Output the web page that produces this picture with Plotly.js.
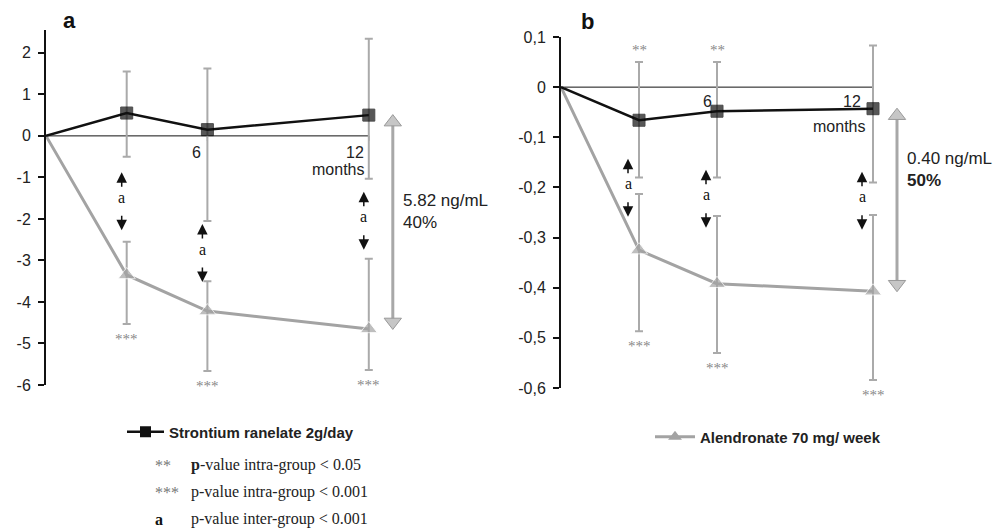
<!DOCTYPE html>
<html>
<head>
<meta charset="utf-8">
<script src="https://cdn.plot.ly/plotly-3.0.1.min.js"></script>
<style>html,body{margin:0;padding:0;background:#fff;}#chart{width:996px;height:532px;}</style>
</head>
<body>
<div id="chart"></div>
<script>
// ---- data ----
const months = [0, 3, 6, 12];

// Panel a (ng/mL)
const srA = [0, 0.55, 0.15, 0.5];
const srAUp = [null, 1.0, 1.47, 1.84];
const srADown = [null, 1.05, 2.2, 1.53];
const alA = [0, -3.35, -4.22, -4.65];
const alAUp = [null, 0.8, 0.72, 1.69];
const alADown = [null, 1.18, 1.44, 0.99];
const starsASr = ['', '', '', ''];
const starsAAl = ['', '***', '***', '***'];
const interA = ['', 'a', 'a', 'a'];
const diffA = ['5.82 ng/mL', '40%'];

// Panel b (ng/mL)
const srB = [0, -0.066, -0.048, -0.043];
const srBUp = [null, 0.116, 0.098, 0.126];
const srBDown = [null, 0.114, 0.132, 0.147];
const alB = [0, -0.325, -0.392, -0.407];
const alBUp = [null, 0.112, 0.135, 0.152];
const alBDown = [null, 0.162, 0.138, 0.177];
const starsBSr = ['', '**', '**', ''];
const starsBAl = ['', '***', '***', '***'];
const interB = ['', 'a', 'a', 'a'];
const diffB = ['0.40 ng/mL', '<b>50%</b>'];

const yTicksA = [2, 1, 0, -1, -2, -3, -4, -5, -6];
const yTickTextA = ['2', '1', '0', '-1', '-2', '-3', '-4', '-5', '-6'];
const yTicksB = [0.1, 0, -0.1, -0.2, -0.3, -0.4, -0.5, -0.6];
const yTickTextB = ['0,1', '0', '-0,1', '-0,2', '-0,3', '-0,4', '-0,5', '-0,6'];

const nameSr = 'Strontium ranelate 2g/day';
const nameAl = 'Alendronate 70 mg/ week';
const notes = [
  ['**', '<b>p</b>-value intra-group &lt; 0.05'],
  ['***', 'p-value intra-group &lt; 0.001'],
  ['<b>a</b>', 'p-value inter-group &lt; 0.001']
];
const monthLabels = ['6', '12', 'months'];

// ---- styles ----
const W = 996, H = 532;
const px = v => v / W;
const py = v => 1 - v / H;
const BLACK = '#111111';
const GRAY = '#a3a3a3';
const ERR = '#aaaaaa';
const SANS = 'Liberation Sans, Arial, Helvetica, sans-serif';
const SERIF = 'Liberation Serif, Times New Roman, serif';

const panels = [
  {xa: 'x', ya: 'y', sr: srA, srU: srAUp, srD: srADown, al: alA, alU: alAUp, alD: alADown,
   sSr: starsASr, sAl: starsAAl, inter: interA, diff: diffA, xd: [46, 470], yd: [385, 30], yr: [-6, 2.55],
   xr: [0, (470 - 46) / 26.9], interShift: -5, diffY: [200, 222], lbl: {six: -11, sixTop: 9, twTop: 9, twR: -3, moTop: 26, moR: -3}},
  {xa: 'x2', ya: 'y2', sr: srB, srU: srBUp, srD: srBDown, al: alB, alU: alBUp, alD: alBDown,
   sSr: starsBSr, sAl: starsBAl, inter: interB, diff: diffB, xd: [561, 980], yd: [388, 37], yr: [-0.6, 0.1],
   xr: [0, (980 - 561) / 26], interShift: -11, diffY: [158, 180], lbl: {six: -10, sixTop: 7, twTop: 7, twR: -10, moTop: 32, moR: -6}}
];

const errTraces = [];
const lineTraces = [];
const annotations = [];
const shapes = [];
const sizes = months.map((m, i) => i === 0 ? 0 : 12);
const triSizes = months.map((m, i) => i === 0 ? 0 : 15);

panels.forEach((p, k) => {
  const pxPerUnit = (p.yd[0] - p.yd[1]) / (p.yr[1] - p.yr[0]);
  const pxPerMonth = (p.xd[1] - p.xd[0]) / (p.xr[1] - p.xr[0]);
  const last = months.length - 1;
  const arrowX = months[last] + 24 / pxPerMonth;
  const toData = pxv => pxv / pxPerUnit;

  // zero line with ticks
  shapes.push({type: 'line', xref: p.xa, yref: p.ya, x0: months[0], x1: months[last], y0: 0, y1: 0,
               line: {color: BLACK, width: 1}, layer: 'below'});
  [months[2], months[3]].forEach(m => {
    shapes.push({type: 'line', xref: p.xa, yref: p.ya, ysizemode: 'pixel', yanchor: 0,
                 x0: m, x1: m, y0: -5, y1: 0, line: {color: BLACK, width: 1}, layer: 'below'});
  });

  // error bars (drawn first, under markers)
  errTraces.push({x: months, y: p.al, xaxis: p.xa, yaxis: p.ya, mode: 'markers', showlegend: false,
    marker: {size: 1, opacity: 0},
    error_y: {type: 'data', symmetric: false, array: p.alU, arrayminus: p.alD, color: ERR, thickness: 2, width: 4},
    cliponaxis: false, hoverinfo: 'skip'});
  errTraces.push({x: months, y: p.sr, xaxis: p.xa, yaxis: p.ya, mode: 'markers', showlegend: false,
    marker: {size: 1, opacity: 0},
    error_y: {type: 'data', symmetric: false, array: p.srU, arrayminus: p.srD, color: ERR, thickness: 2, width: 4},
    cliponaxis: false, hoverinfo: 'skip'});

  // alendronate (gray)
  lineTraces.push({x: months, y: p.al, xaxis: p.xa, yaxis: p.ya, mode: 'lines+markers', showlegend: false,
    line: {color: GRAY, width: 3},
    marker: {symbol: 'triangle-up', size: triSizes, color: GRAY},
    cliponaxis: false, hoverinfo: 'skip'});
  // strontium (black)
  lineTraces.push({x: months, y: p.sr, xaxis: p.xa, yaxis: p.ya, mode: 'lines+markers', showlegend: false,
    line: {color: BLACK, width: 2.5},
    marker: {symbol: 'square', size: sizes, color: BLACK, line: {color: '#000', width: 1}},
    cliponaxis: false, hoverinfo: 'skip'});

  // big difference arrow at 12 months
  const topY = p.sr[last] - toData(7);
  const botY = p.al[last] + toData(7);
  lineTraces.push({x: [arrowX, arrowX], y: [topY, botY], xaxis: p.xa, yaxis: p.ya, mode: 'lines+markers',
    showlegend: false, line: {color: '#a8a8a8', width: 3},
    marker: {symbol: ['triangle-up', 'triangle-down'], size: 15, color: '#c6c6c6', line: {color: '#999999', width: 1}},
    cliponaxis: false, hoverinfo: 'skip'});

  // diff text
  p.diff.forEach((t, j) => {
    annotations.push({xref: p.xa, x: arrowX, xshift: 8, xanchor: 'left', yref: 'paper', y: py(p.diffY[j]),
      yanchor: 'middle', text: t, showarrow: false, font: {family: SANS, size: 17, color: '#222'}});
  });

  // stars & inter-group arrows
  months.forEach((m, i) => {
    if (p.sAl[i]) {
      annotations.push({xref: p.xa, yref: p.ya, x: m, y: p.al[i] - p.alD[i], yanchor: 'top', yshift: -5,
        text: p.sAl[i], showarrow: false, font: {family: SERIF, size: 15, color: '#888'}});
    }
    if (p.sSr[i]) {
      annotations.push({xref: p.xa, yref: p.ya, x: m, y: p.sr[i] + p.srU[i], yanchor: 'bottom', yshift: 2,
        text: p.sSr[i], showarrow: false, font: {family: SERIF, size: 15, color: '#888'}});
    }
    if (p.inter[i]) {
      const yA = ((p.sr[i] - p.srD[i]) + (p.al[i] + p.alU[i])) / 2;
      annotations.push({xref: p.xa, yref: p.ya, x: m, y: yA, xshift: p.interShift, yshift: 2,
        text: p.inter[i], showarrow: false, font: {family: SERIF, size: 16, color: BLACK}});
      annotations.push({xref: p.xa, yref: p.ya, x: m, y: yA, xshift: p.interShift, yshift: 27,
        text: '', showarrow: true, ax: 0, ay: 16, arrowhead: 2, arrowsize: 1.4, arrowwidth: 1.5, arrowcolor: BLACK});
      annotations.push({xref: p.xa, yref: p.ya, x: m, y: yA, xshift: p.interShift, yshift: -31,
        text: '', showarrow: true, ax: 0, ay: -16, arrowhead: 2, arrowsize: 1.4, arrowwidth: 1.5, arrowcolor: BLACK});
    }
  });

  // month labels
  annotations.push({xref: p.xa, yref: p.ya, x: months[2], y: 0, xshift: p.lbl.six, yanchor: 'top', yshift: -p.lbl.sixTop + 3,
    text: monthLabels[0], showarrow: false, font: {family: SANS, size: 16, color: '#222'}});
  annotations.push({xref: p.xa, yref: p.ya, x: months[3], y: 0, xanchor: 'right', xshift: p.lbl.twR, yanchor: 'top', yshift: -p.lbl.twTop + 3,
    text: monthLabels[1], showarrow: false, font: {family: SANS, size: 16, color: '#222'}});
  annotations.push({xref: p.xa, yref: p.ya, x: months[3], y: 0, xanchor: 'right', xshift: p.lbl.moR, yanchor: 'top', yshift: -p.lbl.moTop + 3,
    text: monthLabels[2], showarrow: false, font: {family: SANS, size: 16, color: '#222'}});
});

const traces = errTraces.concat(lineTraces);

// legend dummy traces
traces.push({x: [null], y: [null], xaxis: 'x', yaxis: 'y', mode: 'lines+markers', name: '<b>' + nameSr + '</b>',
  line: {color: BLACK, width: 2.5}, marker: {symbol: 'square', size: 11, color: BLACK}, legend: 'legend'});
traces.push({x: [null], y: [null], xaxis: 'x2', yaxis: 'y2', mode: 'lines+markers', name: '<b>' + nameAl + '</b>',
  line: {color: GRAY, width: 3}, marker: {symbol: 'triangle-up', size: 12, color: GRAY}, legend: 'legend2'});

// panel letters
annotations.push({xref: 'paper', yref: 'paper', x: px(69), y: py(20), xanchor: 'center', yanchor: 'middle',
  text: '<b>a</b>', showarrow: false, font: {family: SANS, size: 22, color: BLACK}});
annotations.push({xref: 'paper', yref: 'paper', x: px(587), y: py(21), xanchor: 'center', yanchor: 'middle',
  text: '<b>b</b>', showarrow: false, font: {family: SANS, size: 22, color: BLACK}});

// notes
const noteY = [465, 492, 519];
notes.forEach((n, i) => {
  annotations.push({xref: 'paper', yref: 'paper', x: px(153), y: py(noteY[i]), xanchor: 'left', yanchor: 'middle',
    text: n[0], showarrow: false, font: {family: SERIF, size: 16, color: i === 2 ? BLACK : '#777'}});
  annotations.push({xref: 'paper', yref: 'paper', x: px(189), y: py(noteY[i]), xanchor: 'left', yanchor: 'middle',
    text: n[1], showarrow: false, font: {family: SERIF, size: 16, color: '#222'}});
});

const yAxisBase = {showline: true, linecolor: BLACK, linewidth: 2, ticks: 'outside', ticklen: 6, tickwidth: 2,
  tickcolor: BLACK, showgrid: false, zeroline: false, ticklabelstandoff: 4,
  tickfont: {family: SANS, size: 16, color: '#222'}, fixedrange: true};
const xAxisBase = {visible: false, showgrid: false, zeroline: false, fixedrange: true};

const p0 = panels[0], p1 = panels[1];
const layout = {
  width: W, height: H,
  margin: {l: 0, r: 0, t: 0, b: 0},
  paper_bgcolor: '#fff', plot_bgcolor: 'rgba(0,0,0,0)',
  xaxis: Object.assign({}, xAxisBase, {domain: [px(p0.xd[0]), px(p0.xd[1])], range: p0.xr}),
  yaxis: Object.assign({}, yAxisBase, {domain: [py(p0.yd[0]), py(p0.yd[1])], range: p0.yr,
    tickvals: yTicksA, ticktext: yTickTextA}),
  xaxis2: Object.assign({}, xAxisBase, {domain: [px(p1.xd[0]), px(p1.xd[1])], range: p1.xr, anchor: 'y2'}),
  yaxis2: Object.assign({}, yAxisBase, {domain: [py(p1.yd[0]), py(p1.yd[1])], range: p1.yr, anchor: 'x2',
    tickvals: yTicksB, ticktext: yTickTextB}),
  legend: {x: px(122), y: py(432), xanchor: 'left', yanchor: 'middle', bgcolor: 'rgba(0,0,0,0)', itemwidth: 37,
    font: {family: SANS, size: 15, color: '#222'}},
  legend2: {x: px(650), y: py(437), xanchor: 'left', yanchor: 'middle', bgcolor: 'rgba(0,0,0,0)', itemwidth: 40,
    font: {family: SANS, size: 15, color: '#222'}},
  shapes: shapes,
  annotations: annotations,
  showlegend: true
};

Plotly.newPlot('chart', traces, layout, {staticPlot: true, displayModeBar: false});
</script>
</body>
</html>
